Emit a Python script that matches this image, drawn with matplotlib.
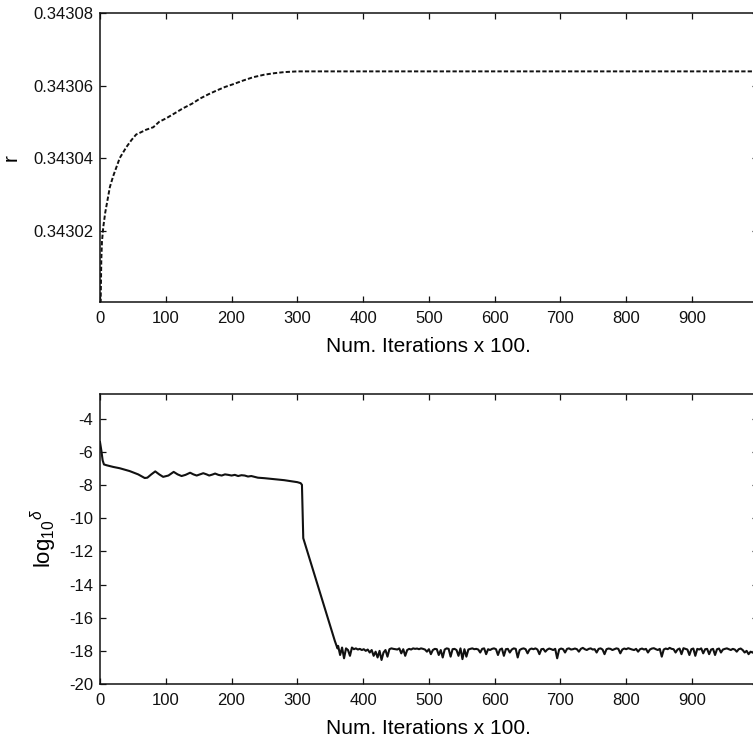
import numpy as np
import matplotlib
matplotlib.use("Agg")
import matplotlib.pyplot as plt

plt.rcParams['font.family'] = ['Liberation Sans', 'DejaVu Sans']
plt.rcParams['mathtext.fontset'] = 'custom'
plt.rcParams['mathtext.rm'] = 'Liberation Sans'
plt.rcParams['mathtext.it'] = 'Liberation Sans:italic'
plt.rcParams['axes.unicode_minus'] = False

# ---- top panel data: r vs iterations (x100) ----
r_iter = [1, 2, 3, 5, 8, 12, 15, 20, 25, 30, 40, 48, 55, 61, 70, 81, 90, 101,
          115, 126, 140, 152, 165, 177, 190, 203, 218, 233, 250, 265, 280, 300,
          320, 400, 600, 800, 1000]
r_vals = [0.343000, 0.343012, 0.343017, 0.343021, 0.343025, 0.343029,
          0.343032, 0.343035, 0.3430375, 0.343040, 0.343043, 0.343045,
          0.3430465, 0.343047, 0.3430478, 0.3430485, 0.343050, 0.343051,
          0.3430525, 0.3430537, 0.343055, 0.3430564, 0.3430576, 0.3430586,
          0.3430596, 0.3430604, 0.3430614, 0.3430623, 0.343063, 0.3430634,
          0.3430637, 0.3430639, 0.3430639, 0.3430639, 0.3430639, 0.3430639,
          0.3430639]

# ---- bottom panel data: log10(delta) ----
d_iter_head = [0, 2, 4, 6, 10, 20, 30, 45, 58, 68, 72, 78, 84, 90, 96, 104, 112,
               118, 124, 130, 137, 142, 147, 152, 157, 162, 166, 171, 175, 180,
               185, 190, 195, 200, 205, 210, 215, 220, 225, 230, 235, 240, 250,
               260, 270, 280, 290, 300, 305, 307, 308, 309, 357, 361]
d_vals_head = [-5.4, -5.9, -6.5, -6.75, -6.8, -6.9, -6.98, -7.15, -7.35, -7.57,
               -7.55, -7.35, -7.17, -7.35, -7.5, -7.42, -7.2, -7.35, -7.45,
               -7.38, -7.25, -7.35, -7.42, -7.35, -7.28, -7.35, -7.42, -7.36,
               -7.3, -7.38, -7.42, -7.35, -7.38, -7.42, -7.38, -7.45, -7.4,
               -7.42, -7.48, -7.45, -7.5, -7.55, -7.58, -7.62, -7.66, -7.7,
               -7.76, -7.82, -7.88, -7.98, -9.5, -11.2, -17.4, -17.85]
d_noise_start = 362
d_noise_step = 3
d_vals_noise = [
    -17.70, -18.25, -17.80, -18.45, -17.85, -17.95, -18.30, -17.80, -17.90, -17.85,
    -17.92, -17.88, -17.95, -17.90, -18.00, -17.92, -18.10, -17.95, -18.30, -18.05,
    -18.40, -18.00, -18.55, -18.10, -17.95, -18.35, -17.90, -17.85, -17.88, -17.90,
    -17.92, -17.85, -18.15, -17.90, -18.30, -17.95, -17.88, -17.92, -17.85, -17.88,
    -17.86, -17.90, -17.85, -17.88, -17.92, -18.05, -17.90, -18.20, -17.95, -17.88,
    -17.90, -18.25, -17.95, -18.40, -17.92, -17.85, -17.88, -18.35, -17.90, -17.88,
    -17.95, -18.30, -17.85, -18.50, -17.90, -18.35, -17.92, -17.88, -17.85, -17.90,
    -17.88, -17.92, -18.10, -17.88, -17.85, -18.20, -17.90, -17.95, -17.88, -17.85,
    -17.90, -18.25, -17.92, -17.86, -18.30, -17.90, -17.88, -18.10, -17.92, -17.85,
    -17.88, -18.40, -17.95, -17.88, -17.85, -17.90, -18.15, -17.92, -17.86, -17.90,
    -17.85, -17.92, -18.20, -17.90, -17.88, -18.05, -17.92, -17.86, -17.90, -17.95,
    -17.88, -18.45, -17.92, -17.86, -17.90, -18.10, -17.88, -17.85, -17.92, -17.90,
    -17.86, -17.90, -18.05, -17.88, -17.82, -17.90, -17.95, -17.88, -17.85, -17.92,
    -17.90, -18.10, -17.88, -17.85, -17.92, -18.20, -17.90, -17.86, -17.88, -17.95,
    -17.90, -17.85, -17.88, -18.15, -17.92, -17.86, -17.90, -17.84, -17.88, -17.92,
    -17.95, -17.88, -18.05, -17.90, -17.86, -17.92, -17.88, -18.10, -17.92, -17.86,
    -17.84, -17.90, -17.95, -17.88, -18.35, -17.92, -17.86, -17.90, -17.82, -17.88,
    -17.90, -18.10, -17.92, -17.86, -18.20, -17.84, -17.88, -17.92, -18.25, -17.90,
    -17.86, -18.30, -17.88, -17.92, -17.85, -18.15, -17.90, -17.88, -18.20, -17.92,
    -17.88, -18.25, -17.90, -17.86, -18.10, -17.92, -17.88, -17.85, -17.90, -17.95,
    -17.88, -17.92, -18.05, -17.90, -17.86, -17.95, -18.10, -18.00, -18.20, -18.05,
    -18.10, -18.15, -18.05,
]

x_ticks = [0, 100, 200, 300, 400, 500, 600, 700, 800, 900]
r_ticks = [0.34302, 0.34304, 0.34306, 0.34308]
r_ticklabels = ['0.34302', '0.34304', '0.34306', '0.34308']
d_ticks = [-20, -18, -16, -14, -12, -10, -8, -6, -4]

d_iter = d_iter_head + [d_noise_start + d_noise_step * i for i in range(len(d_vals_noise))]
d_vals = d_vals_head + d_vals_noise

W, H = 753, 742
fig = plt.figure(figsize=(W / 100, H / 100), dpi=100)

left = 100 / W
right = 757.8 / W
ax1 = fig.add_axes([left, 1 - 302 / H, right - left, (302 - 13) / H])
ax2 = fig.add_axes([left, 1 - 684 / H, right - left, (684 - 394) / H])

lc = '#111111'
ax1.plot(r_iter, r_vals, color=lc, lw=1.4, dashes=(2.2, 1.1))
ax2.plot(d_iter, d_vals, color=lc, lw=1.5)

for ax in (ax1, ax2):
    ax.set_xlim(0, 1000)
    ax.set_xticks(x_ticks)
    ax.tick_params(direction='in', top=True, right=True, length=4, width=0.9,
                   labelsize=12, colors='#111111')
    ax.tick_params(axis='x', pad=6.5)
    ax.tick_params(axis='y', pad=5)
    for s in ax.spines.values():
        s.set_linewidth(1.1)
        s.set_color('#111111')
    ax.set_xlabel('Num. Iterations x 100.', fontsize=15, labelpad=8)

ax1.set_ylim(0.3430003, 0.34308)
ax1.set_yticks(r_ticks)
ax1.set_yticklabels(r_ticklabels)
ax1.set_ylabel('r', fontsize=15, labelpad=9)

ax2.set_ylim(-20, -2.5)
ax2.set_yticks(d_ticks)
ax2.set_ylabel(r'$\mathrm{log}_{10}{}^{\delta}$', fontsize=16, labelpad=7)

fig.savefig('out.png', dpi=100)
